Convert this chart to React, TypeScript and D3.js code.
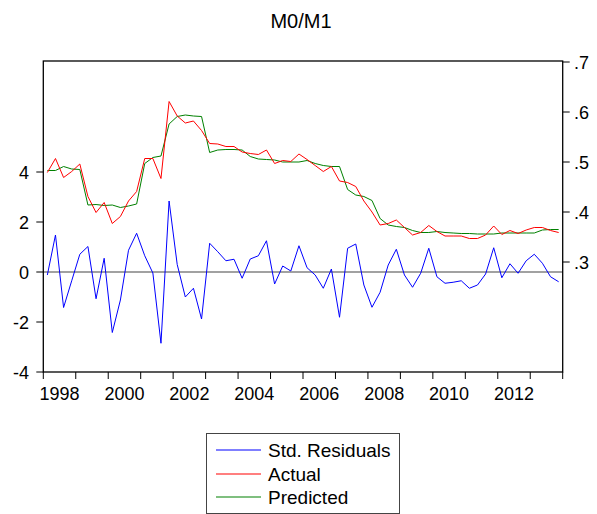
import React from "react";
import * as d3 from "d3";

const title = "M0/M1";
const startYear = 1998;
const endYear = 2014;
const yearLabels = [1998, 2000, 2002, 2004, 2006, 2008, 2010, 2012];
const leftTicks = [-4, -2, 0, 2, 4];
const rightTicks = [0.3, 0.4, 0.5, 0.6, 0.7];
const rightTickLabels = [".3", ".4", ".5", ".6", ".7"];
const seriesNames = ["Std. Residuals", "Actual", "Predicted"];
const seriesColors = ["#0000ff", "#ff0000", "#008000"];

// quarterly 1998Q1 - 2013Q4
const residuals = [
  -0.12, 1.48, -1.42, -0.35, 0.71, 1.02, -1.07, 0.55, -2.42, -1.12,
  0.87, 1.55, 0.65, -0.04, -2.85, 2.84, 0.3, -1.0, -0.65, -1.88,
  1.15, 0.81, 0.45, 0.51, -0.25, 0.52, 0.65, 1.25, -0.48, 0.24,
  0.04, 1.05, 0.17, -0.12, -0.65, 0.12, -1.81, 0.95, 1.12, -0.52,
  -1.41, -0.81, 0.28, 0.91, -0.12, -0.61, -0.05, 0.95, -0.19, -0.45,
  -0.41, -0.35, -0.65, -0.52, -0.08, 0.97, -0.23, 0.33, -0.05, 0.45,
  0.71, 0.35, -0.19, -0.39,
];
const actual = [
  0.479, 0.507, 0.469, 0.481, 0.496, 0.431, 0.399, 0.419, 0.377, 0.391,
  0.422, 0.441, 0.507, 0.507, 0.467, 0.621, 0.592, 0.578, 0.582, 0.563,
  0.537, 0.536, 0.531, 0.531, 0.520, 0.517, 0.515, 0.524, 0.497, 0.503,
  0.501, 0.516, 0.505, 0.493, 0.481, 0.491, 0.462, 0.459, 0.451, 0.422,
  0.400, 0.374, 0.377, 0.384, 0.369, 0.354, 0.359, 0.373, 0.361, 0.352,
  0.352, 0.352, 0.347, 0.347, 0.354, 0.372, 0.355, 0.363, 0.357, 0.364,
  0.369, 0.369, 0.363, 0.359,
];
const predicted = [
  0.483, 0.483, 0.491, 0.486, 0.485, 0.414, 0.415, 0.413, 0.414, 0.409,
  0.412, 0.416, 0.497, 0.509, 0.512, 0.576, 0.591, 0.594, 0.592, 0.591,
  0.519, 0.524, 0.525, 0.525, 0.524, 0.511, 0.506, 0.505, 0.504, 0.500,
  0.500, 0.500, 0.503, 0.497, 0.493, 0.491, 0.491, 0.445, 0.434, 0.431,
  0.423, 0.387, 0.374, 0.371, 0.369, 0.363, 0.359, 0.359, 0.361, 0.359,
  0.358, 0.357, 0.357, 0.356, 0.356, 0.356, 0.358, 0.358, 0.358, 0.358,
  0.358, 0.364, 0.365, 0.365,
];

const W = 597;
const H = 514;
const L = 43.3;
const R = 562.7;
const T = 61;
const B = 372;
const FONT = "'Liberation Sans', Arial, sans-serif";

export default function App() {
  const x = d3.scaleLinear().domain([startYear, endYear]).range([L, R]);
  const yL = d3.scaleLinear().domain([-4, 8.44]).range([B, T]);
  const yR = d3.scaleLinear().domain([0.08, 0.7]).range([B, T + 1]);
  const tq = (i: number) => startYear + (i + 0.5) / 4;

  const lineL = d3
    .line<number>()
    .x((_, i) => x(tq(i)))
    .y((d) => yL(d));
  const lineR = d3
    .line<number>()
    .x((_, i) => x(tq(i)))
    .y((d) => yR(d));

  const years = d3.range(startYear, endYear + 1);
  const legendX = 206;
  const legendY = 433;
  const rowY = [450, 474, 497];

  return (
    <svg
      width={W}
      height={H}
      style={{ position: "absolute", left: 0, top: 0, background: "#fff" }}
      fontFamily={FONT}
    >
      <rect x={0} y={0} width={W} height={H} fill="#fff" />
      <text x={301} y={28} textAnchor="middle" fontSize={20} fill="#000">
        {title}
      </text>

      {/* zero line */}
      <line x1={L} x2={R} y1={yL(0)} y2={yL(0)} stroke="#444" strokeWidth={1.2} />

      {/* series */}
      <path d={lineR(predicted) || ""} fill="none" stroke={seriesColors[2]} strokeWidth={1} />
      <path d={lineR(actual) || ""} fill="none" stroke={seriesColors[1]} strokeWidth={1} />
      <path d={lineL(residuals) || ""} fill="none" stroke={seriesColors[0]} strokeWidth={1} />

      {/* frame */}
      <rect x={L} y={T} width={R - L} height={B - T} fill="none" stroke="#000" strokeWidth={1.3} />

      {/* left axis */}
      {leftTicks.map((v) => (
        <g key={"l" + v}>
          <line x1={L - 7} x2={L} y1={yL(v)} y2={yL(v)} stroke="#000" strokeWidth={1} />
          <text x={29} y={yL(v) + 6.5} textAnchor="end" fontSize={18} fill="#000">
            {v}
          </text>
        </g>
      ))}

      {/* right axis */}
      {rightTicks.map((v, i) => (
        <g key={"r" + v}>
          <line x1={R} x2={R + 7} y1={yR(v)} y2={yR(v)} stroke="#000" strokeWidth={1} />
          <text x={574} y={yR(v) + 6.5} textAnchor="start" fontSize={18} fill="#000">
            {rightTickLabels[i]}
          </text>
        </g>
      ))}

      {/* x axis */}
      {years.map((yv) => (
        <line key={"x" + yv} x1={x(yv)} x2={x(yv)} y1={B} y2={B + 7} stroke="#000" strokeWidth={1} />
      ))}
      {yearLabels.map((yv) => (
        <text key={"xl" + yv} x={x(yv + 0.5)} y={399.5} textAnchor="middle" fontSize={18} fill="#000">
          {yv}
        </text>
      ))}

      {/* legend */}
      <rect x={legendX + 0.5} y={legendY + 0.5} width={193} height={80} fill="#fff" stroke="#444" strokeWidth={1} />
      {seriesNames.map((n, i) => (
        <g key={n}>
          <line
            x1={216}
            x2={261}
            y1={rowY[i]}
            y2={rowY[i]}
            stroke={seriesColors[i]}
            strokeWidth={1.2}
          />
          <text x={268} y={rowY[i] + 6.5} fontSize={19} fill="#000">
            {n}
          </text>
        </g>
      ))}
    </svg>
  );
}
